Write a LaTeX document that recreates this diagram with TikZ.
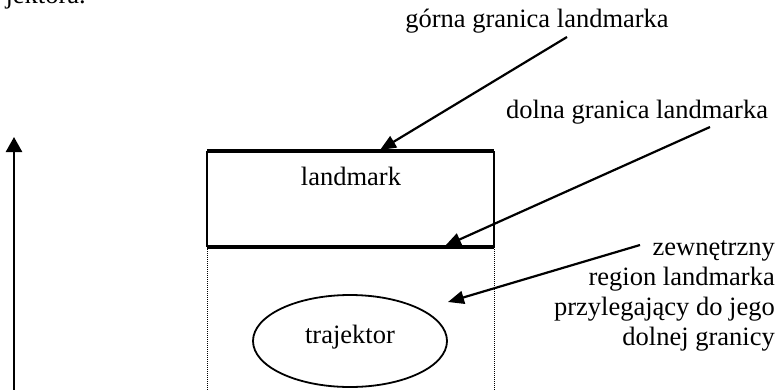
\documentclass[tikz,border=0pt]{standalone}
\usepackage{fontspec}
\setmainfont{Liberation Serif}
\usetikzlibrary{arrows.meta,shapes.geometric}
\begin{document}
\begin{tikzpicture}[x=1pt,y=-1pt,
  lbl/.style={font=\fontsize{26.5}{30}\selectfont, inner sep=0pt},
  ptr/.style={line width=2.2pt, -{Triangle[length=16pt,width=13pt]}},
  side/.style={line width=1.5pt},
  edge/.style={line width=3.5pt},
  dotside/.style={line width=1pt, dash pattern=on 1pt off 1pt},
]
\useasboundingbox (0,0) rectangle (779,389);
% cropped fragment of text above
\node[lbl, anchor=base east] (frag) at (86,3) {jektora.};
% left vertical arrow
\coordinate (vb) at (14,395);
\coordinate (vt) at (14,137);
\draw[line width=2.5pt, -{Triangle[length=15pt,width=16pt]}] (vb) -- (vt);
% landmark box
\coordinate (tl) at (207,151);
\coordinate (tr) at (494,151);
\coordinate (bl) at (207,247);
\coordinate (br) at (494,247);
\coordinate (dl) at (207,395);
\coordinate (dr) at (494,395);
\draw[side] (tl) -- (bl);
\draw[side] (tr) -- (br);
\draw[dotside] (bl) -- (dl);
\draw[dotside] (br) -- (dr);
\draw[edge] (tl) -- (tr);
\draw[edge] (bl) -- (br);
\node[lbl, anchor=base] (lm) at (351,185) {landmark};
% trajector
\node[ellipse, draw, line width=1.8pt, minimum width=194pt, minimum height=92pt,
      inner sep=0pt, font=\fontsize{26.5}{30}\selectfont, text height=14pt, text depth=10pt]
      (traj) at (350,341) {trajektor};
% labels
\node[lbl, anchor=base] (upper) at (537,27) {górna granica landmarka};
\node[lbl, anchor=base] (lower) at (637,118) {dolna granica landmarka};
\node[lbl, anchor=base east, align=right] (outer) at (775,345)
  {zewnętrzny\\region landmarka\\przylegający do jego\\dolnej granicy};
% pointers
\coordinate (a1s) at (567,37);
\coordinate (a1e) at (380,150);
\coordinate (a2s) at (710,127);
\coordinate (a2e) at (445,246);
\coordinate (a3s) at (640,245);
\coordinate (a3e) at (448,302);
\draw[ptr] (a1s) -- (a1e);
\draw[ptr] (a2s) -- (a2e);
\draw[ptr] (a3s) -- (a3e);
\end{tikzpicture}
\end{document}
